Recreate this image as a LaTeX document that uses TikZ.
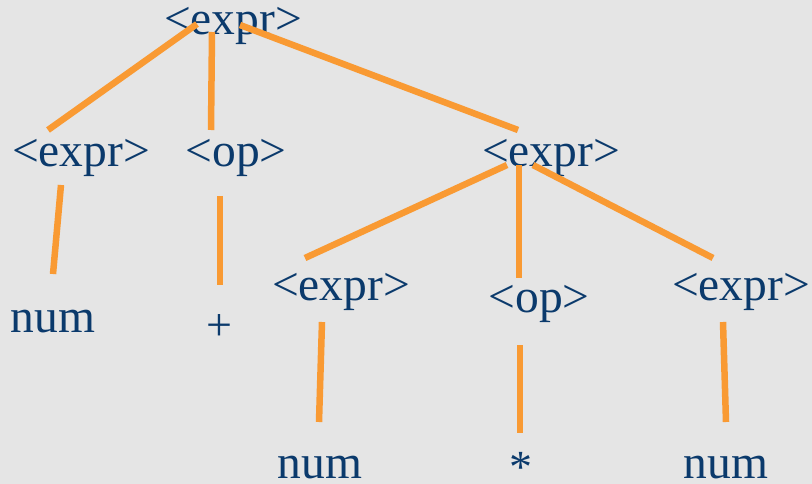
\documentclass[tikz,border=0pt]{standalone}
\usepackage{fontspec}
\setmainfont{Liberation Serif}
\definecolor{bgc}{HTML}{E5E5E5}
\definecolor{txt}{HTML}{0B3A6C}
\definecolor{edge}{HTML}{F99A33}
\begin{document}
\begin{tikzpicture}[x=1pt,y=-1pt,
  lbl/.style={anchor=base,inner sep=0pt,text=txt,font=\fontsize{47.5}{50}\selectfont},
  sym/.style={anchor=center,inner sep=0pt,text=txt,font=\fontsize{46}{50}\selectfont},
  link/.style={draw=edge,line width=6.5pt}]
\fill[bgc] (0,0) rectangle (812,484);
\useasboundingbox (0,0) rectangle (812,484);
% nodes
\node[lbl] (root) at (233,35) {<expr>};
\node[lbl] (e1) at (81,167) {<expr>};
\node[lbl] (op1) at (236,167) {<op>};
\node[lbl] (e2) at (551,167) {<expr>};
\node[lbl] (n1) at (53,332) {num};
\node[sym] (plus) at (219,328) {+};
\node[lbl] (e3) at (341,300) {<expr>};
\node[lbl] (op2) at (539,312) {<op>};
\node[lbl] (e4) at (741,300) {<expr>};
\node[lbl] (n2) at (320,478) {num};
\node[sym] (star) at (521,467) {*};
\node[lbl] (n3) at (726,478) {num};
% connector end points
\coordinate (a1) at (197,24);  \coordinate (b1) at (48,130);
\coordinate (a2) at (212,32);  \coordinate (b2) at (211,130);
\coordinate (a3) at (240,25);  \coordinate (b3) at (518,130);
\coordinate (a4) at (61,185);  \coordinate (b4) at (53,274);
\coordinate (a5) at (220,196); \coordinate (b5) at (220,285);
\coordinate (a6) at (507,165); \coordinate (b6) at (305,258);
\coordinate (a7) at (519,165); \coordinate (b7) at (519,278);
\coordinate (a8) at (533,165); \coordinate (b8) at (713,258);
\coordinate (a9) at (322,322); \coordinate (b9) at (319,422);
\coordinate (a10) at (520,345); \coordinate (b10) at (520,433);
\coordinate (a11) at (723,322); \coordinate (b11) at (726,422);
\foreach \i in {1,...,11}{\draw[link] (a\i) -- (b\i);}
\end{tikzpicture}
\end{document}
